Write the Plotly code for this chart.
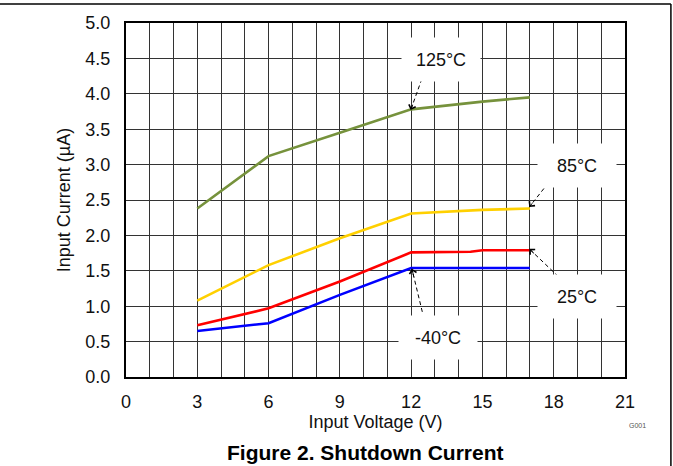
import plotly.graph_objects as go

# ---- data ----
volt_125 = [3, 6, 9, 12, 15, 17]
cur_125 = [2.38, 3.12, 3.45, 3.78, 3.89, 3.95]

volt_85 = [3, 6, 9, 12, 15, 17]
cur_85 = [1.08, 1.58, 1.96, 2.31, 2.36, 2.38]

volt_25 = [3, 6, 9, 12, 14.5, 15, 17]
cur_25 = [0.73, 0.97, 1.35, 1.76, 1.77, 1.79, 1.79]

volt_m40 = [3, 6, 9, 12, 17]
cur_m40 = [0.65, 0.76, 1.16, 1.54, 1.54]

x_ticks = [0, 3, 6, 9, 12, 15, 18, 21]
y_ticks = [0.0, 0.5, 1.0, 1.5, 2.0, 2.5, 3.0, 3.5, 4.0, 4.5, 5.0]

series_names = ["125°C", "85°C", "25°C", "-40°C"]
series_colors = ["#76923C", "#FFD000", "#FF0000", "#0000FF"]

# label placement (data coords): text centre, arrow tail, arrow tip
label_pos = {
    "125°C": (13.26, 4.48, 12.45, 4.21, 11.98, 3.77),
    "85°C": (18.97, 2.99, 17.77, 2.74, 16.97, 2.40),
    "25°C": (18.99, 1.14, 18.19, 1.42, 16.97, 1.81),
    "-40°C": (13.15, 0.56, 12.47, 0.92, 12.03, 1.53),
}

FONT = "Arial, Liberation Sans, sans-serif"

fig = go.Figure()
for name, xs, ys, col in zip(series_names,
                             [volt_125, volt_85, volt_25, volt_m40],
                             [cur_125, cur_85, cur_25, cur_m40],
                             series_colors):
    fig.add_trace(go.Scatter(x=xs, y=ys, mode="lines", name=name,
                             line=dict(color=col, width=2.6), showlegend=False))

annotations = []
shapes = []
for name in series_names:
    tx, ty, ax0, ay0, px, py = label_pos[name]
    annotations.append(dict(x=tx, y=ty, xref="x", yref="y", text=name,
                            showarrow=False, bgcolor="white",
                            xanchor="center", yanchor="middle",
                            width=74, height=39, borderpad=2,
                            font=dict(family=FONT, size=18, color="#111")))
    shapes.append(dict(type="line", xref="x", yref="y", x0=ax0, y0=ay0,
                       x1=px, y1=py, line=dict(color="black", width=1, dash="4px,3px")))
    annotations.append(dict(x=px, y=py, xref="x", yref="y", text="",
                            showarrow=True, axref="x", ayref="y",
                            ax=px + 0.22 * (ax0 - px), ay=py + 0.22 * (ay0 - py),
                            arrowhead=4, arrowsize=1.4, arrowwidth=1,
                            arrowcolor="black", standoff=0))

# figure title and figure id
annotations.append(dict(x=0.48, y=-0.212, xref="paper", yref="paper",
                        xanchor="center", yanchor="middle",
                        text="<b>Figure 2. Shutdown Current</b>", showarrow=False,
                        font=dict(family=FONT, size=21, color="black")))
annotations.append(dict(x=1.0255, y=-0.138, xref="paper", yref="paper",
                        xanchor="center", yanchor="middle",
                        text="G001", showarrow=False,
                        font=dict(family=FONT, size=7, color="#555")))

# page frame (top and right border lines)
shapes.append(dict(type="line", xref="paper", yref="paper", x0=-0.26, x1=1.092,
                   y0=1.0537, y1=1.0537, line=dict(color="black", width=1.5)))
shapes.append(dict(type="line", xref="paper", yref="paper", x0=1.092, x1=1.092,
                   y0=1.0537, y1=-0.26, line=dict(color="black", width=1.5)))

grid_col = "#333333"
fig.update_layout(
    width=673, height=466,
    margin=dict(l=126, r=48, t=23, b=89),
    paper_bgcolor="white", plot_bgcolor="white",
    font=dict(family=FONT, size=18, color="#111"),
    xaxis=dict(range=[0, 21], tickvals=x_ticks, ticktext=[str(v) for v in x_ticks],
               showgrid=True, gridcolor=grid_col, gridwidth=1.4,
               minor=dict(dtick=1, showgrid=True, gridcolor=grid_col, gridwidth=1.4),
               showline=True, linecolor="black", linewidth=2, mirror=True,
               zeroline=False, ticks="", ticklabelstandoff=7,
               title=dict(text="Input Voltage (V)", standoff=4,
                          font=dict(family=FONT, size=18, color="#111"))),
    yaxis=dict(range=[0, 5], tickvals=y_ticks, tickformat=".1f",
               showgrid=True, gridcolor=grid_col, gridwidth=1.4,
               showline=True, linecolor="black", linewidth=2, mirror=True,
               zeroline=False, ticks="", ticklabelstandoff=10,
               title=dict(text="Input Current (µA)", standoff=10,
                          font=dict(family=FONT, size=18, color="#111"))),
    annotations=annotations,
    shapes=shapes,
)

fig.write_html("out.html", config={"displayModeBar": False},
               post_script="document.body.style.margin='0';")
